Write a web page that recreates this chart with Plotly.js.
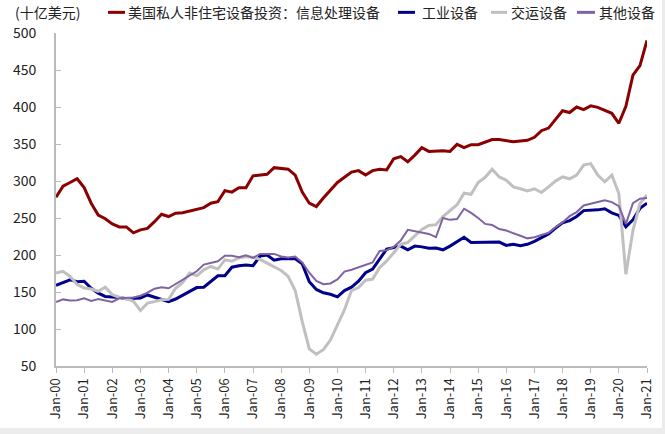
<!DOCTYPE html>
<html>
<head>
<meta charset="utf-8">
<script src="https://cdn.plot.ly/plotly-3.0.1.min.js"></script>
<style>
  html, body { margin: 0; padding: 0; background: #fff; }
  #chart { width: 665px; height: 434px; }
</style>
</head>
<body>
<div id="chart"></div>
<script>
// Quarterly, Q1 2000 .. Q1 2021 (85 quarters)
const tickYears = ["00","01","02","03","04","05","06","07","08","09","10","11","12","13","14","15","16","17","18","19","20","21"];
const tickLabels = tickYears.map(y => "Jan-" + y);

const seriesNames = ["美国私人非住宅设备投资：信息处理设备", "工业设备", "交运设备", "其他设备"];

const infoProcessing = [278,293,298,303,291,270,254,249,242,238,238,230,234,236,245,255,252,256.5,257,259,262,264,270,272,287,285,291,291,307,308,309,318,317,316,308,285,270,265.5,277,288,298,305,312,314,308,314,316,315,330,333,326,335,345,340,341,341,340,349.5,345,349,349,352,356,356,354.5,353,354,355,359,368,371.5,384,395,392.5,400,396.5,401.5,399.5,396,391.5,378,401,443,456,490];

const industrial = [159,163,166.5,164,164.5,155,148.5,144,143.5,142.5,141,141.5,142,146,143,140,137,140.5,146,150.5,156,156.5,164,172,172,183.5,185.5,186.5,185.5,198.5,200,193,195,195,195,188,164,153.5,149,147,143.5,152,156.5,164.5,176,181,194,208,210,212,207,212,211,209,209.5,207,212,218.5,224,217,217,218,217,217.5,213,214.5,212.5,214.5,218.5,224,228.5,236.5,243.5,246.5,252,260,260,261,262.5,257,253.5,238,247.5,263,270];

const transportation = [175.5,178,171,160,155.5,154,151,156.5,146.5,143,141,137.5,125,135,137,139.5,140,155,163,175.5,172,180,184.5,181,193.5,191.5,196,198,197,194,189,184,179,171,152,110,73,66,72,85,106,126,152,156,166,167.5,183,192,203,214.5,217,226,234.5,240,241,252,260,268,283.5,282,298,305,316,305.5,301,292,289.5,286.5,289.5,284.5,292,300,305.5,303,308,321.5,323.5,308,299,308,283,174,233,269.5,281];

const otherEquip = [136.5,140,138.5,139,141.5,138,140.5,138,136.5,141.5,142.5,142.5,145,149,154.5,156.5,155,161,166.5,172,178,187,189,191.5,199,199,197,199.5,196,201.5,201.5,201.5,198,196.5,198,190,176,165,160.5,161.5,167,177.5,180,183,186.5,190,205.5,206.5,211,219.5,234,232,230.5,228.5,224,250,247.5,248.5,262.5,257,250,242,240.5,235,233,229,226,222.5,224,227,230,237.5,244,252.5,258,267,269.5,271.5,274,271.5,266,242,270,276,277];

const quarterIndex = infoProcessing.map((_, i) => i);
const tickPositions = tickYears.map((_, i) => i * 4);

const colors = ["#8B0000", "#00008B", "#C0C0C0", "#8064A2"];
const widths = [3, 3, 3, 2];
const allSeries = [infoProcessing, industrial, transportation, otherEquip];

const traces = allSeries.map((vals, k) => ({
  x: quarterIndex,
  y: vals,
  type: "scatter",
  mode: "lines",
  name: seriesNames[k],
  line: { color: colors[k], width: widths[k] },
  hoverinfo: "skip"
}));

const font = "'Noto Sans CJK SC', 'Noto Sans', sans-serif";

// Legend drawn in a single row at the top (paper coordinates)
const legendLineX = [[0.088, 0.1168], [0.5787, 0.6074], [0.736, 0.7631], [0.8816, 0.912]];
const legendTextX = [0.1201, 0.6176, 0.7682, 0.9171];
const legendY = 1.062;

const legendShapes = seriesNames.map((n, k) => ({
  type: "line", xref: "paper", yref: "paper",
  x0: legendLineX[k][0], x1: legendLineX[k][1], y0: legendY, y1: legendY,
  line: { color: colors[k], width: 3 }
}));
const legendTexts = seriesNames.map((n, k) => ({
  text: n, xref: "paper", yref: "paper",
  x: legendTextX[k], y: legendY, xanchor: "left", yanchor: "middle",
  showarrow: false, borderpad: 0,
  font: { family: font, size: 14, color: "#222" }
}));

const layout = {
  width: 665,
  height: 434,
  margin: { l: 56, r: 18, t: 33, b: 68 },
  paper_bgcolor: "#ffffff",
  plot_bgcolor: "#ffffff",
  font: { family: font, size: 14, color: "#222" },
  showlegend: false,
  xaxis: {
    range: [0, 84],
    tickmode: "array",
    tickvals: tickPositions,
    ticktext: tickLabels,
    tickangle: -90,
    ticks: "outside",
    ticklen: 5,
    tickcolor: "#bbbbbb",
    showline: true,
    linecolor: "#bbbbbb",
    linewidth: 2,
    showgrid: false,
    zeroline: false,
    tickfont: { family: font, size: 13, color: "#222" }
  },
  yaxis: {
    range: [50, 500],
    dtick: 50,
    tick0: 50,
    ticks: "inside",
    ticklen: 5,
    tickcolor: "#bbbbbb",
    showline: true,
    linecolor: "#bbbbbb",
    linewidth: 2,
    showgrid: false,
    zeroline: false,
    ticklabelstandoff: 15,
    tickfont: { family: font, size: 14, color: "#222" }
  },
  annotations: [{
    text: "(十亿美元)",
    xref: "paper", yref: "paper",
    x: -0.071, y: legendY,
    xanchor: "left", yanchor: "middle",
    showarrow: false, borderpad: 0,
    font: { family: font, size: 14, color: "#222" }
  }].concat(legendTexts),
  shapes: [
    { type: "rect", xref: "paper", yref: "paper", x0: 1.0254, x1: 1.06, y0: -0.25, y1: 1.15, fillcolor: "#ececec", line: { width: 0 } },
    { type: "rect", xref: "paper", yref: "paper", x0: -0.2, x1: 1.06, y0: -0.25, y1: -0.186, fillcolor: "#ececec", line: { width: 0 } }
  ].concat(legendShapes)
};

Plotly.newPlot("chart", traces, layout, { displayModeBar: false, staticPlot: true });
</script>
</body>
</html>
